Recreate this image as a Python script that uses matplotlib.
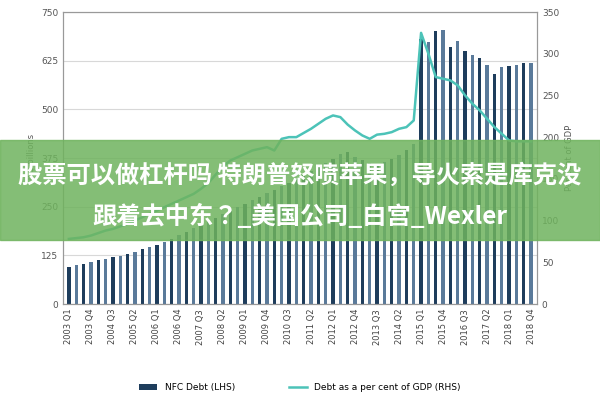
import matplotlib
matplotlib.use("Agg")
import matplotlib.pyplot as plt
import numpy as np

quarters = [f"{y} Q{q}" for y in range(2003, 2019) for q in range(1, 5)]
nfc_debt = [95, 100, 104, 108, 112, 116, 120, 124, 128, 134, 140, 146, 152, 160, 168, 176,
            185, 195, 205, 214, 222, 230, 240, 250, 258, 266, 275, 284, 293, 302, 312, 322,
            332, 342, 352, 362, 372, 385, 390, 378, 370, 362, 358, 364, 372, 382, 395, 412,
            680, 672, 700, 703, 660, 675, 650, 640, 632, 615, 590, 610, 612, 615, 618, 620]
debt_gdp = [78, 79, 80, 82, 85, 88, 90, 93, 96, 100, 104, 108, 112, 116, 120, 124,
            128, 132, 138, 145, 155, 165, 172, 176, 180, 184, 186, 188, 184, 198, 200, 200,
            205, 210, 216, 222, 226, 224, 215, 208, 202, 198, 203, 204, 206, 210, 212, 220,
            325, 300, 272, 270, 268, 262, 250, 240, 232, 222, 212, 204, 196, 195, 195, 195]
tick_labels = quarters[::3]

cjk = ["Noto Sans CJK JP", "Noto Sans CJK SC", "DejaVu Sans"]

fig = plt.figure(figsize=(6, 4), dpi=100)
ax = fig.add_axes([0.105, 0.24, 0.79, 0.73])
x = np.arange(len(quarters))
colors = ["#1e3d5c" if i % 2 == 0 else "#5a7a9a" for i in range(len(x))]
ax.bar(x, nfc_debt, width=0.45, color=colors, label="NFC Debt (LHS)", zorder=2)
ax.set_ylim(0, 750)
ax.set_yticks([0, 125, 250, 375, 500, 625, 750])
ax.set_xlim(-0.8, len(x) - 0.2)
ax.set_xticks(x[::3])
ax.set_xticklabels(tick_labels, rotation=90, fontsize=6, color="#444")
ax.tick_params(axis="y", labelsize=6.5, colors="#555", length=0)
ax.tick_params(axis="x", length=0)
ax.grid(axis="y", color="#d8d8d8", lw=0.8, zorder=0)
for s in ax.spines.values():
    s.set_color("#999")
ax2 = ax.twinx()
ax2.plot(x, debt_gdp, color="#4cc3b8", lw=1.8, label="Debt as a per cent of GDP (RHS)")
ax2.set_ylim(0, 350)
ax2.set_yticks(range(0, 351, 50))
ax2.tick_params(axis="y", labelsize=6.5, colors="#555", length=0)
ax2.set_ylabel("Per cent of GDP", fontsize=6, color="#555")
ax.set_ylabel("US$ billions", fontsize=6, color="#555")
for s in ax2.spines.values():
    s.set_color("#999")
h1, l1 = ax.get_legend_handles_labels()
h2, l2 = ax2.get_legend_handles_labels()
fig.legend(h1 + h2, l1 + l2, loc="lower center", ncol=2, frameon=False, fontsize=6.5,
           bbox_to_anchor=(0.5, 0.0), columnspacing=6)

fig.patches.append(plt.Rectangle((0, 0.4), 1, 0.25, transform=fig.transFigure,
                                 color="#6fb35e", alpha=0.85, zorder=10))
fig.text(0.5, 0.56, "股票可以做杠杆吗 特朗普怒喷苹果，导火索是库克没", ha="center", va="center",
         fontsize=17.5, color="white", fontweight="bold", family=cjk, zorder=11)
fig.text(0.5, 0.46, "跟着去中东？_美国公司_白宫_Wexler", ha="center", va="center",
         fontsize=17.5, color="white", fontweight="bold", family=cjk, zorder=11)
fig.savefig("out.png", dpi=100)
